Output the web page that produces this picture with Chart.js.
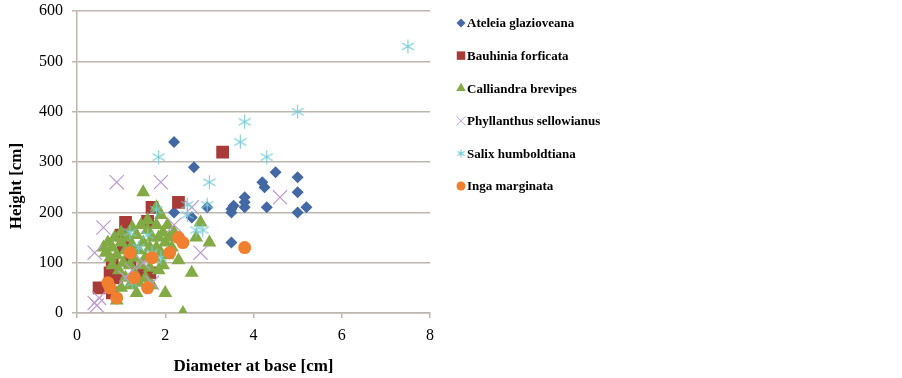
<!DOCTYPE html>
<html>
<head>
<meta charset="utf-8">
<script src="https://cdn.jsdelivr.net/npm/chart.js@4/dist/chart.umd.min.js"></script>
<style>
  html, body { margin: 0; padding: 0; background: #fff; }
  #wrap { width: 902px; height: 378px; }
</style>
</head>
<body>
<div id="wrap"><canvas id="myChart" width="902" height="378"></canvas></div>
<script>
// species names (legend order)
var species = ['Ateleia glazioveana', 'Bauhinia forficata', 'Calliandra brevipes',
               'Phyllanthus sellowianus', 'Salix humboldtiana', 'Inga marginata'];

// [diameter at base (cm), height (cm)]
var ateleia = [[2.2,340],[2.65,290],[2.2,200],[2.6,190],[2.95,210],[3.5,140],[3.5,200],[3.5,207],
  [3.55,213],[3.8,210],[3.8,220],[3.8,230],[4.2,260],[4.25,250],[4.3,210],[4.5,280],[5.0,270],
  [5.0,240],[5.0,200],[5.2,210]];
var bauhinia = [[0.5,50],[0.8,40],[0.75,80],[0.8,105],[1.0,155],[1.05,130],[1.1,180],[1.6,182],
  [1.7,210],[1.45,75],[1.65,80],[2.3,220],[3.3,320],[1.2,100],[0.9,70]];
var calliandra = [[0.6,130],[0.65,120],[0.7,140],[0.75,110],[0.8,130],[0.8,95],[0.85,150],[0.9,25],
  [0.9,115],[0.95,85],[1.0,140],[1.0,160],[1.05,100],[1.1,125],[1.1,70],[1.15,150],[1.2,55],
  [1.2,95],[1.25,170],[1.25,135],[1.3,110],[1.3,80],[1.35,155],[1.4,60],[1.4,125],[1.45,175],
  [1.45,95],[1.5,140],[1.5,240],[1.55,110],[1.55,70],[1.6,165],[1.6,185],[1.65,130],[1.65,90],
  [1.7,150],[1.7,55],[1.75,110],[1.8,210],[1.8,175],[1.8,130],[1.85,85],[1.85,150],[1.9,195],
  [1.9,120],[1.95,160],[1.95,95],[2.0,40],[2.0,140],[2.05,175],[2.05,115],[2.1,150],[2.15,130],
  [2.2,160],[2.3,105],[2.4,0],[2.6,80],[2.7,150],[2.8,180],[3.0,140],[1.0,50],[1.35,40]];
var phyllanthus = [[0.4,20],[0.5,30],[0.45,15],[0.4,120],[0.6,170],[0.9,260],[1.9,260],[2.2,175],
  [2.6,210],[2.8,120],[4.6,230],[1.25,85],[1.5,100],[1.7,60],[1.1,70]];
var salix = [[1.2,160],[1.25,60],[1.6,155],[1.8,205],[1.85,310],[1.9,110],[2.5,195],[2.5,215],
  [2.7,165],[2.85,165],[2.95,215],[3.0,260],[3.7,340],[3.8,380],[4.3,310],[5.0,400],[7.5,530],
  [1.4,130],[1.7,120]];
var inga = [[0.7,60],[0.75,50],[0.9,30],[1.2,120],[1.3,70],[1.6,50],[1.7,110],[2.1,120],[2.3,150],
  [2.4,140],[3.8,130]];

var xTicks = [0, 2, 4, 6, 8];
var yTicks = [0, 100, 200, 300, 400, 500, 600];

function pts(arr) { return arr.map(function (p) { return { x: p[0], y: p[1] }; }); }

// excel-like asterisk marker (vertical stroke + two diagonals)
function asterisk(size, color) {
  var c = document.createElement('canvas');
  c.width = size; c.height = size;
  var g = c.getContext('2d');
  var m = size / 2, r = size / 2 - 0.5;
  g.strokeStyle = color; g.lineWidth = 1.1;
  g.beginPath();
  g.moveTo(m, m - r); g.lineTo(m, m + r);
  g.moveTo(m - r * 0.87, m - r * 0.5); g.lineTo(m + r * 0.87, m + r * 0.5);
  g.moveTo(m - r * 0.87, m + r * 0.5); g.lineTo(m + r * 0.87, m - r * 0.5);
  g.stroke();
  return c;
}

var colors = ['#4468A4', '#A83B37', '#82AA45', '#BE9CCF', '#76CCD6', '#F08030'];
var styles = ['rectRot', 'rect', 'triangle', 'crossRot', asterisk(15, '#76CCD6'), 'circle'];
var radii = [6, 9, 8, 10, 7, 6.5];
var legendStyles = ['rectRot', 'rect', 'triangle', 'crossRot', asterisk(9, '#76CCD6'), 'circle'];
var legendRadii = [4.5, 6, 5.5, 6.5, 4.5, 4.5];
var series = [ateleia, bauhinia, calliandra, phyllanthus, salix, inga];

var datasets = species.map(function (name, i) {
  return {
    label: name,
    data: pts(series[i]),
    order: species.length - i, // later series on top, like excel
    pointStyle: styles[i],
    pointRadius: radii[i],
    pointHoverRadius: radii[i],
    backgroundColor: colors[i],
    borderColor: colors[i],
    pointBorderWidth: i === 3 ? 1.2 : 0,
    showLine: false
  };
});

// legend + y title drawn at fixed spots (excel puts the y title below centre)
var sideLegend = {
  id: 'sideLegend',
  afterDraw: function (chart) {
    var ctx = chart.ctx;
    ctx.save();
    ctx.font = 'bold 13px "Liberation Serif", "Times New Roman", serif';
    ctx.textBaseline = 'middle';
    ctx.textAlign = 'left';
    for (var i = 0; i < species.length; i++) {
      var y = 23 + i * 32.6;
      ctx.fillStyle = colors[i];
      ctx.strokeStyle = colors[i];
      ctx.lineWidth = 1;
      Chart.helpers.drawPoint(ctx, { pointStyle: legendStyles[i], radius: legendRadii[i], rotation: 0, borderWidth: i === 3 ? 1 : 0 }, 461, y);
      ctx.fillStyle = '#000';
      ctx.fillText(species[i], 467, y + 1);
    }
    ctx.translate(17, 186);
    ctx.rotate(-Math.PI / 2);
    ctx.textAlign = 'center';
    ctx.font = 'bold 17px "Liberation Serif", "Times New Roman", serif';
    ctx.fillText('Height [cm]', 0, 0);
    ctx.restore();
  }
};

var axisColor = '#BDB6AE';
var ctx = document.getElementById('myChart').getContext('2d');
var chart = new Chart(ctx, {
  type: 'scatter',
  data: { datasets: datasets },
  options: {
    responsive: false,
    animation: false,
    layout: { padding: { top: 10, right: 472, bottom: 0, left: 0 } },
    plugins: { legend: { display: false }, tooltip: { enabled: false } },
    scales: {
      x: {
        type: 'linear', min: 0, max: 8,
        afterBuildTicks: function (s) { s.ticks = xTicks.map(function (v) { return { value: v }; }); },
        afterFit: function (s) { s.height = 65; s.paddingLeft = 0; s.paddingRight = 0; },
        ticks: { color: '#000', padding: 8, font: { family: '"Liberation Serif", serif', size: 16 } },
        grid: { drawOnChartArea: false, tickLength: 5, color: axisColor, lineWidth: 1.5 },
        border: { color: axisColor, width: 1.5 },
        title: { display: true, text: 'Diameter at base [cm]', color: '#000', padding: { top: 0, bottom: 1 },
                 font: { family: '"Liberation Serif", serif', size: 17, weight: 'bold' } }
      },
      y: {
        type: 'linear', min: 0, max: 600,
        afterBuildTicks: function (s) { s.ticks = yTicks.map(function (v) { return { value: v }; }); },
        afterFit: function (s) { s.width = 77; s.paddingTop = 0; s.paddingBottom = 0; },
        ticks: { color: '#000', padding: 9, font: { family: '"Liberation Serif", serif', size: 16 } },
        grid: { tickLength: 5, color: axisColor, lineWidth: 1.5 },
        border: { color: axisColor, width: 1.5 },
        title: { display: false }
      }
    }
  },
  plugins: [sideLegend]
});
</script>
</body>
</html>
